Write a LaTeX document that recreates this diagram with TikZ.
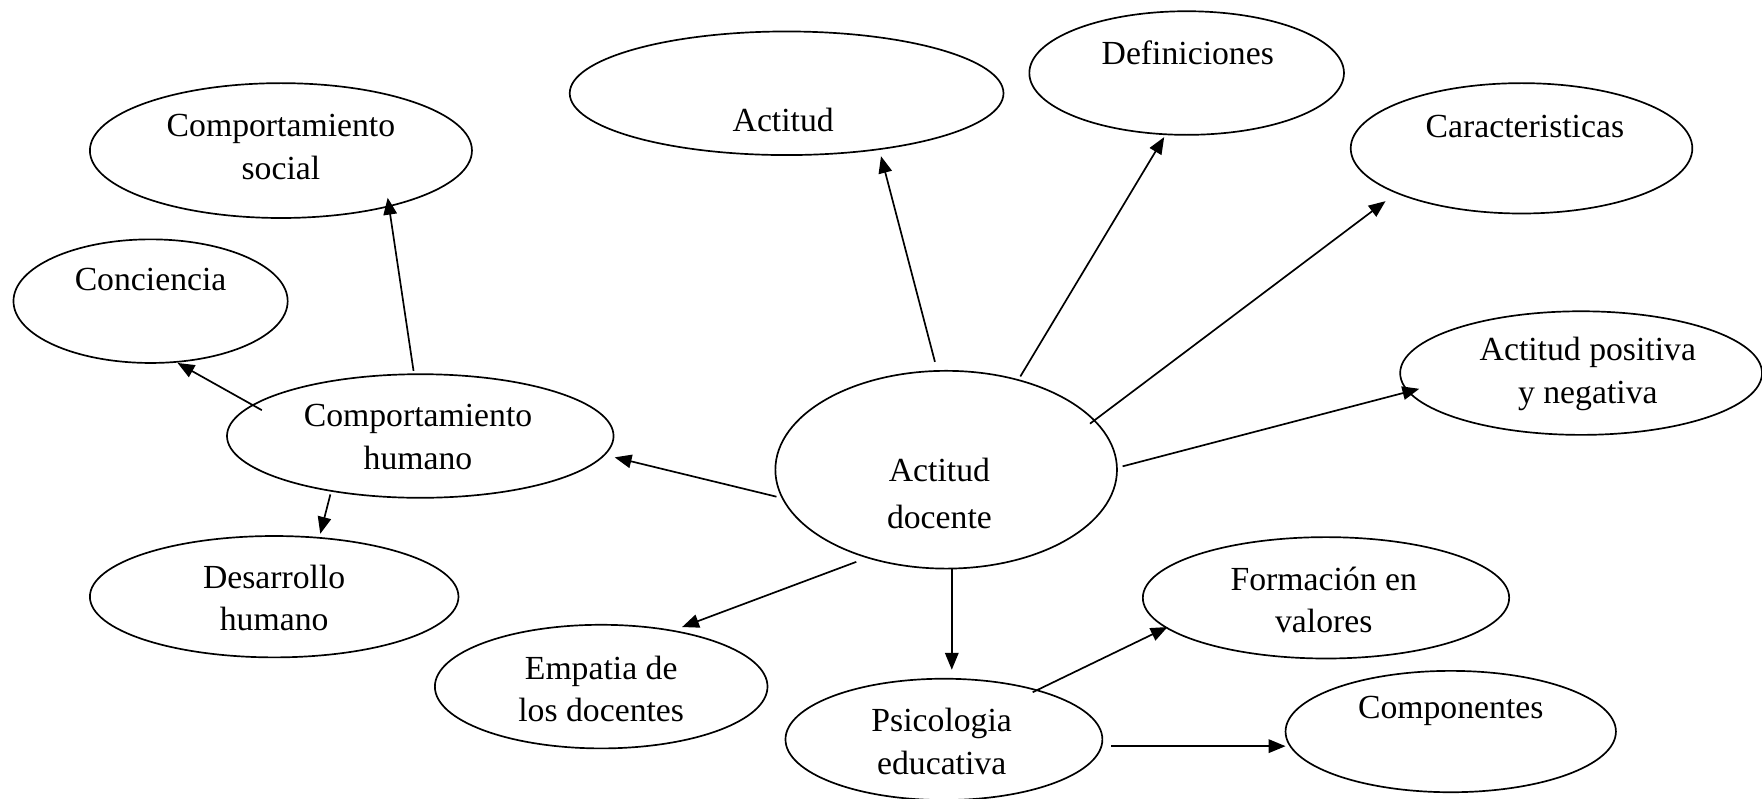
\documentclass[tikz,border=0pt]{standalone}
\usepackage{fontspec}
\setmainfont{Liberation Serif}
\usetikzlibrary{shapes.geometric,arrows.meta,calc}
\begin{document}
\begin{tikzpicture}[x=0.5pt,y=-0.5pt,
  oval/.style={draw=black,line width=0.75pt,ellipse,inner sep=0pt,fill=none},
  lbl/.style={font=\fontsize{15}{19}\selectfont,align=center,inner sep=0pt},
  arr/.style={draw=black,line width=0.75pt,-{Triangle[length=7.5pt,width=6pt]}}]
\useasboundingbox[fill=white] (0,0) rectangle (1568,711);
% ellipses
\node[oval,minimum width=193pt,minimum height=55pt] (act) at (700,83) {};
\node[oval,minimum width=140pt,minimum height=55pt] (def) at (1056,65) {};
\node[oval,minimum width=152pt,minimum height=58pt] (car) at (1354,132) {};
\node[oval,minimum width=161pt,minimum height=55pt] (apn) at (1407,332) {};
\node[oval,minimum width=170pt,minimum height=60pt] (csoc) at (250,134) {};
\node[oval,minimum width=122pt,minimum height=55pt] (conc) at (134,268) {};
\node[oval,minimum width=172pt,minimum height=55pt] (chum) at (374,388) {};
\node[oval,minimum width=152pt,minimum height=88pt] (ad) at (842,418) {};
\node[oval,minimum width=164pt,minimum height=54pt] (dh) at (244,531) {};
\node[oval,minimum width=148pt,minimum height=55pt] (emp) at (535,611) {};
\node[oval,minimum width=141pt,minimum height=54pt] (psi) at (840,658) {};
\node[oval,minimum width=163pt,minimum height=54pt] (fv) at (1180,532) {};
\node[oval,minimum width=147pt,minimum height=54pt] (comp) at (1291,651) {};
% texts
\node[lbl] (act-t) at (697,107) {Actitud};
\node[lbl] (def-t) at (1057,47) {Definiciones};
\node[lbl] (car-t) at (1357,113) {Caracteristicas};
\node[lbl] (apn-t) at (1413,333) {Actitud positiva\\y negativa};
\node[lbl] (csoc-t) at (250,131) {Comportamiento\\social};
\node[lbl] (conc-t) at (134,249) {Conciencia};
\node[lbl] (chum-t) at (372,389) {Comportamiento\\humano};
\node[lbl,font=\fontsize{15}{21}\selectfont] (ad-t) at (836,439) {Actitud\\docente};
\node[lbl] (dh-t) at (244,532) {Desarrollo\\humano};
\node[lbl] (emp-t) at (535,613) {Empatia de\\los docentes};
\node[lbl] (psi-t) at (838,660) {Psicologia\\educativa};
\node[lbl] (fv-t) at (1178,534) {Formación en\\valores};
\node[lbl] (comp-t) at (1291,633) {Componentes};
% connectors
\draw[arr] ($(ad)+(-10,-96)$) -- ($(act)+(84,56)$);
\draw[arr] ($(ad)+(66,-83)$) -- ($(def)+(-20,57)$);
\draw[arr] ($(ad)+(128,-41)$) -- ($(car)+(-121,47)$);
\draw[arr] ($(ad)+(157,-3)$) -- ($(apn)+(-144,14)$);
\draw[arr] ($(ad)+(-151,24)$) -- ($(chum)+(173,19)$);
\draw[arr] ($(ad)+(-80,82)$) -- ($(emp)+(72,-53)$);
\draw[arr] ($(ad)+(5,88)$) -- ($(psi)+(7,-62)$);
\draw[arr] ($(chum)+(-6,-58)$) -- ($(csoc)+(95,42)$);
\draw[arr] ($(chum)+(-141,-23)$) -- ($(conc)+(24,55)$);
\draw[arr] ($(chum)+(-80,52)$) -- ($(dh)+(41,-56)$);
\draw[arr] ($(psi)+(79,-42)$) -- ($(fv)+(-141,26)$);
\draw[arr] ($(psi)+(149,6)$) -- ($(comp)+(-147,13)$);
\end{tikzpicture}
\end{document}
